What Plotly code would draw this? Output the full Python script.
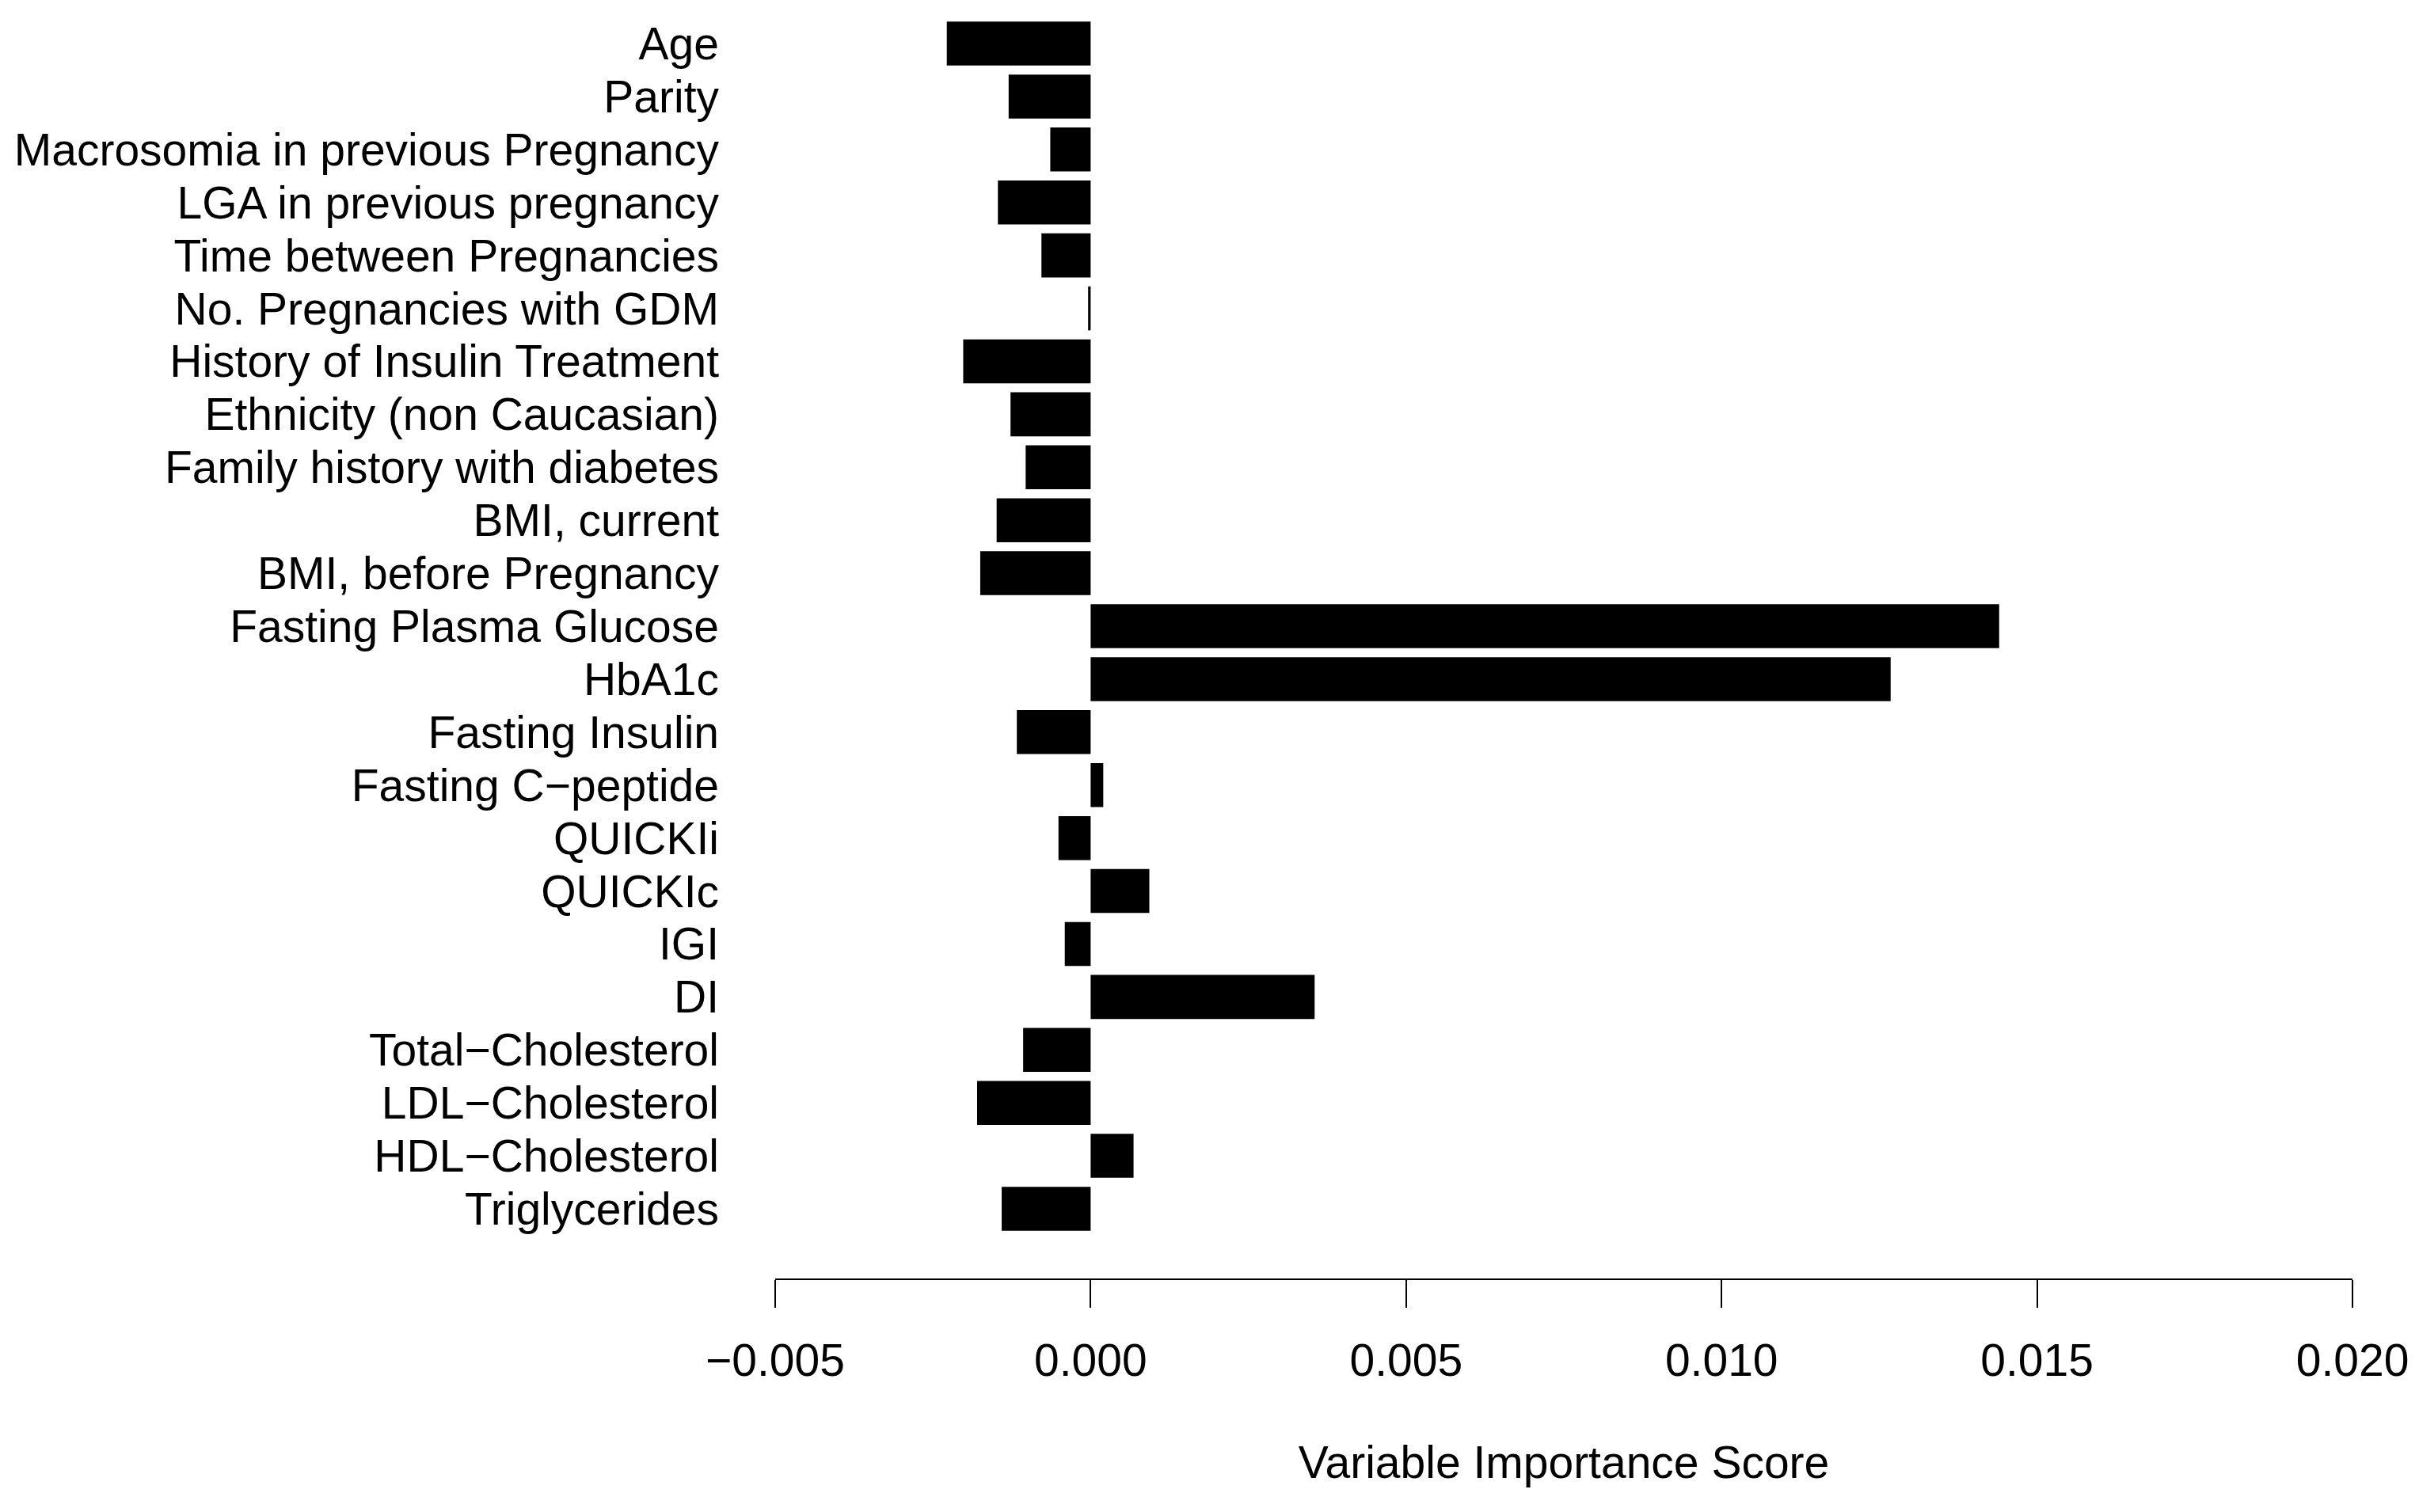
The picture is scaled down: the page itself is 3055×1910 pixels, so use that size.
import plotly.graph_objects as go

variables = [
    "Age", "Parity", "Macrosomia in previous Pregnancy", "LGA in previous pregnancy",
    "Time between Pregnancies", "No. Pregnancies with GDM", "History of Insulin Treatment",
    "Ethnicity (non Caucasian)", "Family history with diabetes", "BMI, current",
    "BMI, before Pregnancy", "Fasting Plasma Glucose", "HbA1c", "Fasting Insulin",
    "Fasting C\u2212peptide", "QUICKIi", "QUICKIc", "IGI", "DI", "Total\u2212Cholesterol",
    "LDL\u2212Cholesterol", "HDL\u2212Cholesterol", "Triglycerides",
]
importance = [
    -0.00228, -0.00130, -0.00064, -0.00147, -0.00078, -0.00004, -0.00202,
    -0.00127, -0.00103, -0.00149, -0.00175, 0.01440, 0.01268, -0.00117,
    0.00020, -0.00051, 0.00093, -0.00041, 0.00355, -0.00107,
    -0.00180, 0.00068, -0.00141,
]
x_ticks = [-0.005, 0.000, 0.005, 0.010, 0.015, 0.020]
x_ticktext = ["\u22120.005", "0.000", "0.005", "0.010", "0.015", "0.020"]

FONT = "Liberation Sans, Arial, sans-serif"

fig = go.Figure(go.Bar(
    x=importance, y=variables, orientation="h",
    marker=dict(color="black", line=dict(width=0)),
))

fig.update_layout(
    width=3055, height=1910,
    margin=dict(l=979, r=84, t=0, b=295),
    plot_bgcolor="white", paper_bgcolor="white",
    bargap=0.17, showlegend=False,
    font=dict(family=FONT, size=57, color="black"),
)
fig.update_xaxes(
    range=[-0.005, 0.020], tickmode="array", tickvals=x_ticks, ticktext=x_ticktext,
    showgrid=False, zeroline=False, showline=True, linecolor="black", linewidth=2,
    ticks="outside", ticklen=35, tickwidth=2, tickcolor="black",
    ticklabelstandoff=18,
    title=dict(text="Variable Importance Score", standoff=78, font=dict(size=57)),
)
fig.update_yaxes(
    type="category", range=[23.315, -0.822],
    tickmode="array", tickvals=variables, ticktext=variables,
    showgrid=False, zeroline=False, showline=False, ticks="",
    ticklabelstandoff=70,
)

fig.write_html("out.html", config={"displayModeBar": False},
               post_script="document.body.style.margin='0';")
